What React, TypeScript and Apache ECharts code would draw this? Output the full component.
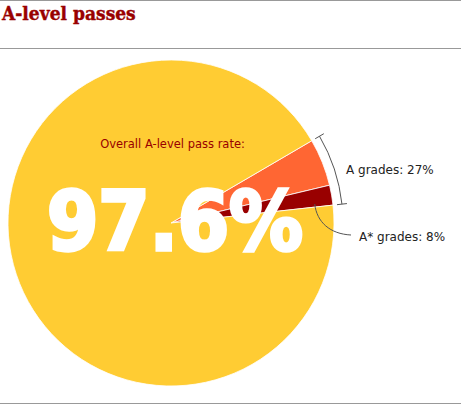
import React, { useEffect, useRef } from "react";
import * as echarts from "echarts";

// ---- data ----
const chartTitle = "A-level passes";
const overallLabel = "Overall A-level pass rate:";
const overallRate = "97.6%";
const sliceNames = ["A grades", "A* grades", "Rest of passes"];
// A-only share (27 - 8), A* share, remainder of the decorative pie (estimated)
const sliceValues = [19, 8, 378];
const sliceColors = ["#FF6633", "#990000", "#FFCC33"];
const gradeLabels = ["A grades: 27%", "A* grades: 8%"];

const W = 461;
const H = 404;
const CX = 171;
const CY = 223;
const R = 163;
const START_ANGLE = 30.3;

export default function App() {
  const ref = useRef<HTMLDivElement>(null);

  useEffect(() => {
    if (!ref.current) return;
    const chart = echarts.init(ref.current, null, { renderer: "svg" });

    const total = sliceValues.reduce((a, b) => a + b, 0);
    const degPer = 360 / total;
    const topDeg = START_ANGLE;
    const bottomDeg = START_ANGLE - (sliceValues[0] + sliceValues[1]) * degPer;
    const rad = (d: number) => (-d * Math.PI) / 180; // screen angle
    const pt = (r: number, d: number) => [CX + r * Math.cos(rad(d)), CY + r * Math.sin(rad(d))];

    const bracketR = 172;
    const tickIn = 167;
    const tickOut = 177;
    const t1a = pt(tickIn, topDeg), t1b = pt(tickOut, topDeg);
    const t2a = pt(tickIn, bottomDeg), t2b = pt(tickOut, bottomDeg);
    const ptrStart = pt(145, bottomDeg + 1.2);

    const lineStyle = { stroke: "#555", lineWidth: 1, fill: "none" };

    chart.setOption({
      animation: false,
      backgroundColor: "#ffffff",
      series: [
        {
          type: "pie",
          center: [CX, CY],
          radius: [0, R],
          startAngle: START_ANGLE,
          clockwise: true,
          silent: true,
          label: { show: false },
          labelLine: { show: false },
          itemStyle: { borderColor: "#ffffff", borderWidth: 0.8 },
          data: sliceValues.map((v, i) => ({
            name: sliceNames[i],
            value: v,
            itemStyle: { color: sliceColors[i] },
          })),
        },
      ],
      graphic: [
        { type: "line", shape: { x1: 0, y1: 0.5, x2: W, y2: 0.5 }, style: { stroke: "#999", lineWidth: 1 }, z: 10 },
        { type: "line", shape: { x1: 0, y1: 48.5, x2: W, y2: 48.5 }, style: { stroke: "#999", lineWidth: 1 }, z: 10 },
        { type: "line", shape: { x1: 0, y1: 403.5, x2: W, y2: 403.5 }, style: { stroke: "#999", lineWidth: 1 }, z: 10 },
        {
          type: "text",
          x: 2,
          y: 12.5,
          z: 10,
          style: {
            text: chartTitle,
            fill: "#990000",
            stroke: "#990000",
            lineWidth: 0.4,
            font: "bold 19px 'DejaVu Serif Condensed', 'DejaVu Serif', serif",
            textAlign: "left",
            textVerticalAlign: "middle",
          },
        },
        {
          type: "text",
          x: 172.5,
          y: 144,
          z: 10,
          style: {
            text: overallLabel,
            fill: "#990000",
            font: "11.5px 'DejaVu Sans', Verdana, sans-serif",
            textAlign: "center",
            textVerticalAlign: "middle",
          },
        },
        {
          type: "text",
          x: 175,
          y: 221,
          z: 20,
          style: {
            text: overallRate,
            fill: "#ffffff",
            stroke: "#ffffff",
            lineWidth: 3.5,
            font: "bold 82px 'DejaVu Sans Condensed', 'DejaVu Sans', sans-serif",
            textAlign: "center",
            textVerticalAlign: "middle",
          },
        },
        {
          type: "arc",
          z: 10,
          shape: { cx: CX, cy: CY, r: bracketR, startAngle: rad(topDeg), endAngle: rad(bottomDeg), clockwise: true },
          style: lineStyle,
        },
        { type: "line", z: 10, shape: { x1: t1a[0], y1: t1a[1], x2: t1b[0], y2: t1b[1] }, style: lineStyle },
        { type: "line", z: 10, shape: { x1: t2a[0], y1: t2a[1], x2: t2b[0], y2: t2b[1] }, style: lineStyle },
        {
          type: "bezierCurve",
          z: 10,
          shape: {
            x1: ptrStart[0],
            y1: ptrStart[1],
            cpx1: ptrStart[0] + 2,
            cpy1: ptrStart[1] + 18,
            cpx2: 330,
            cpy2: 234,
            x2: 351,
            y2: 235,
          },
          style: lineStyle,
        },
        {
          type: "text",
          x: 346,
          y: 170,
          z: 10,
          style: {
            text: gradeLabels[0],
            fill: "#222",
            font: "12px 'DejaVu Sans', Verdana, sans-serif",
            textAlign: "left",
            textVerticalAlign: "middle",
          },
        },
        {
          type: "text",
          x: 359,
          y: 237,
          z: 10,
          style: {
            text: gradeLabels[1],
            fill: "#222",
            font: "12px 'DejaVu Sans', Verdana, sans-serif",
            textAlign: "left",
            textVerticalAlign: "middle",
          },
        },
      ],
    });

    return () => chart.dispose();
  }, []);

  return (
    <div
      ref={ref}
      style={{ position: "absolute", left: 0, top: 0, width: W, height: H, background: "#fff" }}
    />
  );
}
